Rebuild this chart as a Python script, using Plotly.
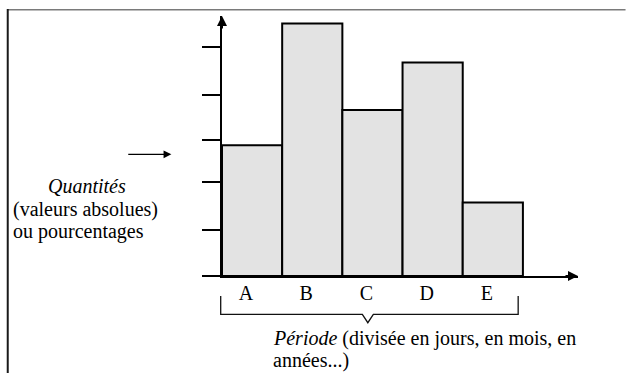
import plotly.graph_objects as go

# Periods and the quantity observed in each one
categories = ["A", "B", "C", "D", "E"]
quantities = [2.84, 5.49, 3.61, 4.64, 1.60]
# Graduation marks on the quantity axis
tick_marks = [0, 1.0, 2.05, 2.96, 3.94, 4.97]

W, H = 626, 373
# plot-area edges in page pixels
L, R, T, B = 222, 578.4, 16, 276
XU = 60.25   # pixels per period
YU = 46.0    # pixels per quantity unit

x_lo = -0.5
x_hi = x_lo + (R - L) / XU
y_hi = (B - T) / YU

FONT = "Liberation Serif"


def xp(px):
    """page pixel -> paper x"""
    return (px - L) / (R - L)


def yp(py):
    """page pixel -> paper y"""
    return (B - py) / (B - T)


positions = list(range(len(categories)))

fig = go.Figure(
    go.Bar(
        x=positions,
        y=quantities,
        width=1,
        marker=dict(color="#e3e3e3", line=dict(color="#000000", width=2)),
        cliponaxis=False,
        hoverinfo="skip",
    )
)

fig.update_layout(
    width=W,
    height=H,
    margin=dict(l=L, r=W - R, t=T, b=H - B, pad=0),
    paper_bgcolor="white",
    plot_bgcolor="white",
    showlegend=False,
    font=dict(family=FONT, size=20, color="#000000"),
)

fig.update_xaxes(
    range=[x_lo, x_hi],
    showline=True,
    linewidth=2,
    linecolor="#000000",
    showgrid=False,
    zeroline=False,
    ticks="",
    tickvals=positions,
    ticktext=categories,
    ticklabelshift=-6,
    ticklabelstandoff=-2,
    tickfont=dict(family=FONT, size=20, color="#000000"),
)

fig.update_yaxes(
    range=[0, y_hi],
    showline=True,
    linewidth=2,
    linecolor="#000000",
    showgrid=False,
    zeroline=False,
    ticks="outside",
    ticklen=18,
    tickwidth=2,
    tickcolor="#000000",
    tickvals=tick_marks,
    showticklabels=False,
)

annotations = [
    # arrowheads closing both axes
    dict(x=1, y=0, xref="paper", yref="paper", ax=-14, ay=0, text="",
         showarrow=True, arrowhead=2, arrowwidth=2, arrowsize=1,
         arrowcolor="#000000", standoff=0),
    dict(x=0, y=1, xref="paper", yref="paper", ax=0, ay=14, text="",
         showarrow=True, arrowhead=2, arrowwidth=2, arrowsize=1,
         arrowcolor="#000000", standoff=0),
    # pointer toward the quantity axis
    dict(x=xp(171.3), y=yp(154.3), xref="paper", yref="paper", ax=-44.6,
         ay=0, text="", showarrow=True, arrowhead=2, arrowwidth=1.3,
         arrowsize=1.2, arrowcolor="#000000", standoff=0),
]

texts = [
    ("<i>Quantités</i>", 47, 186),
    ("(valeurs absolues)", 12, 209),
    ("ou pourcentages", 12, 232),
    ("<i>Période</i> (divisée en jours, en mois, en", 272, 338),
    ("années...)", 272, 360),
]
for txt, px, py in texts:
    annotations.append(
        dict(x=xp(px), y=yp(py), xref="paper", yref="paper", text=txt,
             showarrow=False, xanchor="left", yanchor="middle",
             borderpad=0, font=dict(family=FONT, size=20, color="#000000"))
    )

fig.update_layout(annotations=annotations)

# brace grouping the periods
brace = [(220.7, 296), (220.7, 314.3), (362.5, 314.3), (368, 322.7),
         (373.5, 314.3), (518.5, 314.3), (518.5, 296)]
path = "M " + " L ".join(f"{xp(a)},{yp(b)}" for a, b in brace)

shapes = [
    dict(type="path", path=path, xref="paper", yref="paper",
         line=dict(color="#111111", width=1.3)),
    # outer frame: top and left rules
    dict(type="line", xref="paper", yref="paper",
         x0=xp(7), x1=xp(626), y0=yp(9.7), y1=yp(9.7),
         line=dict(color="#7a7a7a", width=1.6)),
    dict(type="line", xref="paper", yref="paper",
         x0=xp(7.5), x1=xp(7.5), y0=yp(9), y1=yp(373),
         line=dict(color="#1a1a1a", width=2)),
]
fig.update_layout(shapes=shapes)

fig.write_html("out.html")
